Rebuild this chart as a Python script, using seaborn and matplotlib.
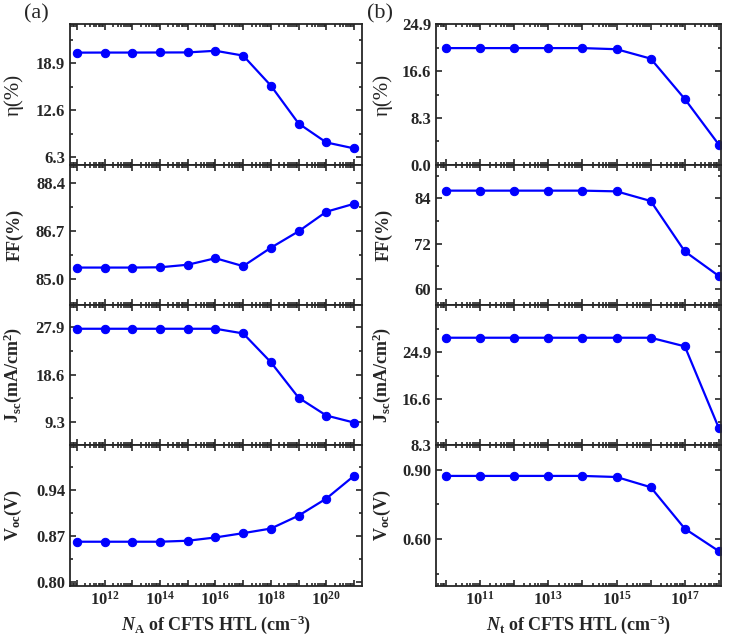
import numpy as np
import pandas as pd
import matplotlib
matplotlib.use("Agg")
import matplotlib.pyplot as plt
import seaborn as sns
from matplotlib.ticker import FixedLocator, FuncFormatter, LogLocator, NullFormatter, FormatStrFormatter

# (a) acceptor density sweep
na = [1e11, 1e12, 1e13, 1e14, 1e15, 1e16, 1e17, 1e18, 1e19, 1e20, 1e21]
na_eta = [20.35, 20.36, 20.36, 20.37, 20.38, 20.6, 19.95, 15.9, 10.8, 8.25, 7.45]
na_ff = [85.42, 85.42, 85.42, 85.43, 85.52, 85.75, 85.47, 86.12, 86.7, 87.39, 87.67]
na_jsc = [27.62, 27.62, 27.62, 27.62, 27.62, 27.62, 26.7, 21.03, 14.05, 10.55, 9.16]
na_voc = [0.861, 0.861, 0.861, 0.861, 0.8625, 0.8675, 0.874, 0.881, 0.9006, 0.9265, 0.961]

# (b) defect density sweep
nt = [1e10, 1e11, 1e12, 1e13, 1e14, 1e15, 1e16, 1e17, 1e18]
nt_eta = [20.7, 20.7, 20.7, 20.7, 20.7, 20.5, 18.83, 11.66, 3.54]
nt_ff = [86.04, 86.04, 86.04, 86.04, 86.04, 85.85, 83.3, 69.96, 63.44]
nt_jsc = [27.5, 27.5, 27.5, 27.5, 27.5, 27.5, 27.5, 25.96, 11.31]
nt_voc = [0.8727, 0.8727, 0.8727, 0.8727, 0.8727, 0.868, 0.824, 0.645, 0.548]

sns.set_style("ticks")
plt.rcParams["font.family"] = ["Liberation Serif", "DejaVu Serif"]
plt.rcParams["mathtext.fontset"] = "custom"
plt.rcParams["mathtext.rm"] = "Liberation Serif:bold"
plt.rcParams["mathtext.bf"] = "Liberation Serif:bold"
plt.rcParams["mathtext.it"] = "Liberation Serif:italic:bold"

fig = plt.figure(figsize=(7.32, 6.43), dpi=100)
gs_a = fig.add_gridspec(4, 1, left=0.0956, right=0.4945, top=0.962, bottom=0.0894, hspace=0)
gs_b = fig.add_gridspec(4, 1, left=0.5956, right=0.985, top=0.962, bottom=0.0894, hspace=0)

ylab_eta = "η(%)"
ylab_ff = "FF(%)"
ylab_jsc = r"J$_{\mathrm{sc}}$(mA/cm$^{\mathrm{2}}$)"
ylab_voc = r"V$_{\mathrm{oc}}$(V)"

panels_a = [
    (na_eta, ylab_eta, (5.25, 24.15), [6.3, 12.6, 18.9], [9.45, 15.75, 22.05], "%.1f"),
    (na_ff, ylab_ff, (84.1, 89.05), [85.0, 86.7, 88.4], [85.85, 87.55], "%.1f"),
    (na_jsc, ylab_jsc, (4.7, 32.3), [9.3, 18.6, 27.9], [13.95, 23.25], "%.1f"),
    (na_voc, ylab_voc, (0.7945, 1.0075), [0.80, 0.87, 0.94], [0.835, 0.905, 0.975], "%.2f"),
]
panels_b = [
    (nt_eta, ylab_eta, (0, 24.9), [0.0, 8.3, 16.6, 24.9], [4.15, 12.45, 20.75], "%.1f"),
    (nt_ff, ylab_ff, (55.8, 92.9), [60, 72, 84], [66, 78, 90], "%d"),
    (nt_jsc, ylab_jsc, (8.3, 33.35), [8.3, 16.6, 24.9], [12.45, 20.75, 29.05], "%.1f"),
    (nt_voc, ylab_voc, (0.40, 1.005), [0.60, 0.90], [0.45, 0.75], "%.2f"),
]


def draw_column(gs, xs, panels, xlim, parity, xlabel, label_x):
    axes = []
    for i, (ys, ylab, ylim, major, minor, fmt) in enumerate(panels):
        ax = fig.add_subplot(gs[i])
        df = pd.DataFrame({"x": xs, "y": ys})
        sns.lineplot(data=df, x="x", y="y", ax=ax, color="#0000ff", linewidth=1.6,
                     marker="o", markersize=6, markeredgecolor="#0000ff")
        ax.set_xscale("log")
        ax.set_xlim(*xlim)
        ax.set_ylim(*ylim)
        ax.xaxis.set_major_locator(LogLocator(base=10, numticks=30))
        ax.xaxis.set_minor_locator(LogLocator(base=10, subs=np.arange(2, 10), numticks=30))
        ax.xaxis.set_minor_formatter(NullFormatter())
        ax.xaxis.set_major_formatter(FuncFormatter(
            lambda v, p: "$10^{%d}$" % round(np.log10(v)) if round(np.log10(v)) % 2 == parity else ""))
        ax.yaxis.set_major_locator(FixedLocator(major))
        ax.yaxis.set_minor_locator(FixedLocator(minor))
        ax.yaxis.set_major_formatter(FormatStrFormatter(fmt))
        ax.tick_params(which="both", direction="in", top=True, right=True, width=1.2)
        ax.tick_params(which="major", length=4.5, labelsize=12)
        ax.tick_params(which="minor", length=2.5)
        for lab in ax.get_yticklabels() + ax.get_xticklabels():
            lab.set_fontweight("bold")
        for sp in ax.spines.values():
            sp.set_linewidth(1.3)
        if ylab == ylab_eta:
            ax.set_ylabel(ylab, fontsize=15, fontweight="normal")
        else:
            ax.set_ylabel(ylab, fontsize=13, fontweight="bold")
        ax.yaxis.set_label_coords(label_x, 0.5)
        if i < 3:
            ax.tick_params(labelbottom=False)
            ax.set_xlabel("")
        else:
            ax.set_xlabel(xlabel, fontsize=13, fontweight="bold")
        axes.append(ax)
    return axes


draw_column(gs_a, na, panels_a, (5.6e10, 1.94e21), 0,
            r"$N_{\mathrm{A}}$ of CFTS HTL (cm$^{\mathrm{-3}}$)", -0.158)
draw_column(gs_b, nt, panels_b, (5.1e9, 1.15e18), 1,
            r"$N_{\mathrm{t}}$ of CFTS HTL (cm$^{\mathrm{-3}}$)", -0.151)

fig.text(36 / 732, 1 - 14 / 643, "(a)", fontsize=16, ha="center", va="center")
fig.text(380 / 732, 1 - 14 / 643, "(b)", fontsize=16, ha="center", va="center")

fig.savefig("out.png", dpi=100)
